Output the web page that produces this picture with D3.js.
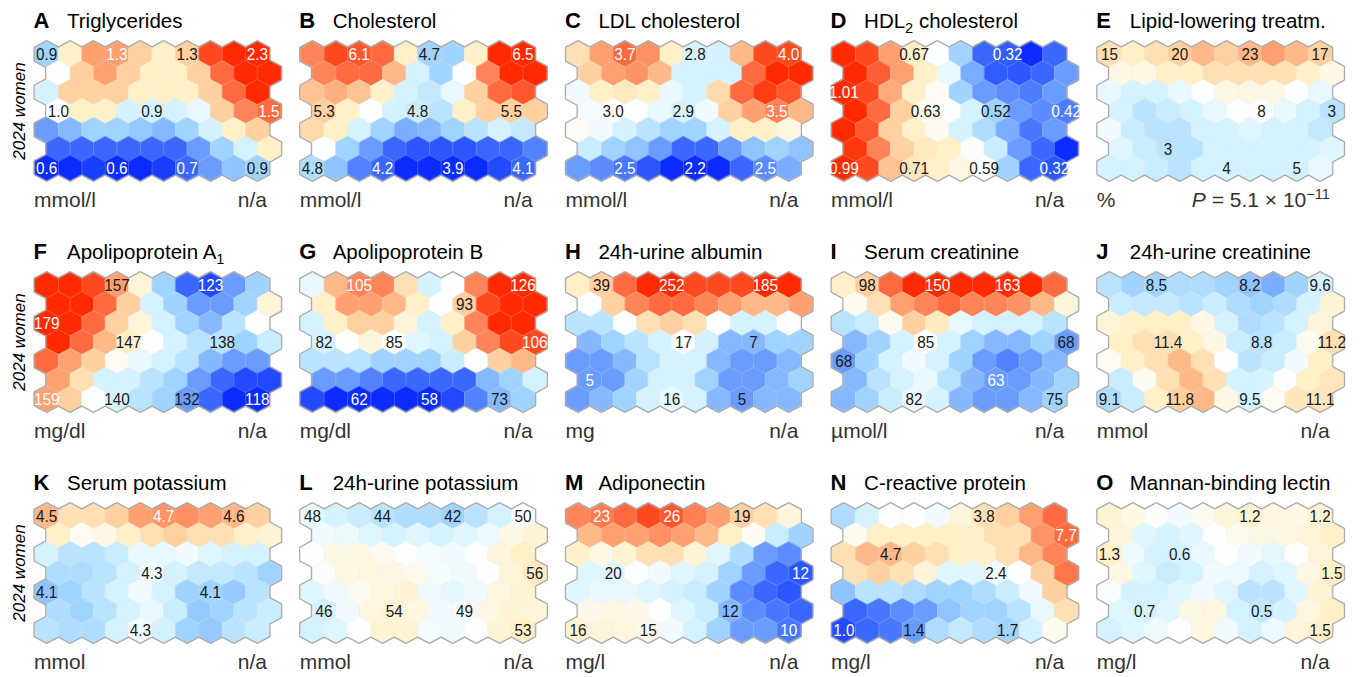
<!DOCTYPE html>
<html>
<head>
<meta charset="utf-8">
<script src="https://cdn.jsdelivr.net/npm/d3@7"></script>
<style>
  html, body { margin: 0; padding: 0; background: #fff; }
  svg { display: block; }
  text { font-family: "Liberation Sans", Arial, Helvetica, sans-serif; }
</style>
</head>
<body>
<svg id="chart" width="1365" height="677"></svg>
<script>
// ---------------- DATA ----------------
// SOM component planes: 7 rows x 10 columns, relative level (-5 = deep blue ... 0 = white ... +5 = deep red)
const triglycerides = [
  [-2, 1, 3, 3, 2, 1, 2, 4.5, 5, 5],
  [0, 2, 3, 2, 1, 1, 2, 4, 5, 5],
  [-1, 2, 2, 2, 1, 1, 1, 2, 4, 5],
  [0, 1, 1, -1, -1, -1, -0.5, 2, 3.5, 4],
  [-3, -2.5, -2, -2, -2.2, -2.5, -2, -1, 1, 2],
  [-4, -4, -4, -4, -4, -4, -3, -2, -1, 1],
  [-5, -5, -4.7, -5, -5, -4.7, -4, -3, -2.3, -2]
];
const cholesterol = [
  [3.5, 4.5, 4.3, 4, 1, -2, -2, 1, 5, 5],
  [3.5, 4, 4, 2.5, -1, -2, 0, 3.5, 5, 5],
  [2.3, 2.7, 2.3, 1, -1, -1.3, -0.5, 2, 4, 4.3],
  [2, 1, 0, -1, -1.2, -1.5, 1, 2, 2, 2],
  [1.7, 1, -1, -2, -2.7, -2.5, -2, -1.5, -1, -1.3],
  [0, -2, -3, -4, -4.3, -4.3, -4.3, -4, -4, -3.5],
  [-1.7, -2.3, -3.5, -4, -5, -5, -5, -5, -4.5, -4]
];
const ldlCholesterol = [
  [1.5, 3, 4, 3.3, 1, -1, -1, 2.5, 4.5, 4.5],
  [2, 3, 3.2, 2.5, -1, -1, -1, 4, 5, 5],
  [-0.3, 1, 1.2, 1, -0.5, -1, 1.7, 4, 4.7, 4.3],
  [-0.2, 0, 0, -0.5, -1, -0.3, 2, 3, 3.5, 2.5],
  [0.2, -0.3, -1, -1.5, -2, -2, -1, 1, 1, 0.5],
  [-1.2, -2, -2.3, -3, -4, -4, -3, -2.3, -2, -2.3],
  [-3, -3.3, -3.7, -4.3, -5, -5, -5, -4, -3.3, -2.7]
];
const hdl2Cholesterol = [
  [5, 4.5, 3, 1, 0, -2, -4, -4.2, -5, -4],
  [5, 4.2, 3, 1, -0.5, -2.7, -4.2, -4.3, -4, -3],
  [5, 4.5, 2.8, 1, 0.2, -2, -3, -3.3, -3.6, -3],
  [5, 4, 2, 0.3, 0, -1, -2, -3, -3.3, -3.6],
  [5, 4.3, 2, 1, 0.3, -1, -1.7, -2.7, -3.7, -3],
  [4.8, 3.5, 2, 1.2, 1, 0.1, -1.2, -3, -4, -5],
  [5, 4.5, 2.3, 1.3, 1, 0.5, 0, -2, -4, -4.3]
];
const lipidLowering = [
  [1.5, 1, 1.5, 2, 2.5, 2, 2.5, 3, 2.5, 2],
  [0.5, 0.5, 1, 1, 1.5, 1.5, 1.5, 1.5, 1, 0.5],
  [-0.5, -1, -1, -0.5, 0, 0.5, 0.5, 0.5, 0, -0.5],
  [-1, -1.5, -1.2, -1, -0.5, 0, 0, -0.5, -1, -1.5],
  [-0.3, -1.2, -1.5, -1.5, -1, -1, -0.7, -1, -1, -1.3],
  [-0.7, -1.2, -1.5, -1.5, -1, -1, -1, -1, -1, -0.7],
  [-1, -1, -1.2, -1.5, -1, -1, -1, -1, -1, -0.5]
];
const apoA1 = [
  [5, 5, 4.5, 3, 0.7, -2, -4, -4.5, -3, -2],
  [5, 5, 4, 2, -1, -2, -3, -3, -2, 0.7],
  [5, 5, 4, 2, 0.7, -1, -2, -2.5, -1.5, 0],
  [5, 4, 2.5, 1, 0, -1, -1.5, -1.5, -2, -1.2],
  [4, 3, 2, 0.2, -0.5, -1, -1.5, -2.5, -3, -3],
  [3, 1.5, -1, -1, -1.5, -2, -3, -4, -4.5, -4.5],
  [3, 2, 0, -1, -1.5, -2, -3, -4, -5, -5]
];
const apoB = [
  [-0.5, 2.5, 3.5, 3.5, 1.5, -1, 0, 3.5, 5, 5],
  [1, 3, 3, 2.5, 1, 0, 2, 4.5, 5, 5],
  [-1, 1, 2, 2, 0.7, -1, 1, 3.5, 5, 5],
  [-1, 0, 0.7, 0, -0.7, -1, 2, 3.5, 4.5, 4.5],
  [-1.5, -1.5, -1.5, -2, -2, -2, -1.2, 0, 2, 2.5],
  [-3, -3, -3.5, -4, -4, -4, -4, -2.5, -2, -1],
  [-4.5, -5, -5, -5, -5, -5, -4.5, -3.5, -2.5, -2]
];
const urineAlbumin = [
  [1, 2, 4, 5, 5, 4.5, 4.5, 4.5, 5, 5],
  [0, 2, 3.5, 4, 4, 3.5, 3, 2.5, 2.5, 3],
  [-1.5, -1.5, 0, 1.5, 2, 1.5, 0, -1, -1, 0],
  [-2.5, -2, -1.5, -1, 0, -1, -2.5, -2.5, -2, -2],
  [-3, -3, -2.5, -1.5, -1, -1, -2.5, -3, -3, -2.5],
  [-3, -3, -2, -1, -1, -2, -3, -3, -2.5, -2],
  [-3, -2.5, -2, -1, -0.5, -1, -2.5, -3, -2.5, -2.5]
];
const serumCreatinine = [
  [1, 2, 4, 5, 5, 5, 5, 5, 5, 4],
  [0.3, 1.5, 3, 3.5, 4, 3.5, 3.5, 3.2, 2.5, 0.7],
  [-1.5, -1.2, 0.3, 2, 1.2, -0.5, -1, -1, -1, -1.5],
  [-2.5, -2, -1, 0, -1, -2, -2.5, -2.5, -2, -3],
  [-3, -2, -1, -0.3, -1, -2, -3, -3.5, -3, -2.5],
  [-2.5, -1.5, -1, -0.5, -1.5, -2.5, -3, -3, -2.5, -2],
  [-2.5, -2, -1.2, -0.5, -1, -2.5, -3, -3, -2.5, -2]
];
const urineCreatinine = [
  [-1.5, -2, -2, -1.7, -1.7, -2, -2.3, -2.7, -2, -1],
  [-1.2, -1.3, -1.3, -1.5, -1.2, -1.7, -2, -1.7, -1, 0.8],
  [0.7, 1, 1, 1, 0.5, -1, -1.7, -1.5, -1, 0.7],
  [1, 1.5, 1.5, 1, 0.5, -1.2, -1.5, -1.2, 0.3, 1.5],
  [0.2, 1, 1.5, 2.5, 1.5, 0, -1.5, -1.2, -0.3, 1],
  [-1.2, 0.3, 1.5, 2.5, 1.5, -1, -1, 0, 1, 1.3],
  [-1.7, -1.2, 1, 2, 2.5, 0.5, -1, 0.2, 1.3, 1.3]
];
const serumPotassium = [
  [2.5, 1.5, 1.5, 2, 3, 3.2, 3.3, 3, 2.5, 2],
  [1, 0.2, 0.5, 1, 1.5, 2, 1.5, 1.5, 1, 0.8],
  [-1, -1.5, -1.5, -1.2, -0.5, -0.5, -0.3, -0.7, -1, -1],
  [-1.7, -1.7, -1.5, -1, -0.3, -1, -1.3, -1.3, -1.5, -2],
  [-2.3, -2, -1.5, -1, -0.3, -1, -2, -2, -2.2, -1.5],
  [-1.7, -2, -1.5, -1, -0.5, -1.2, -2.2, -2, -1.5, -1.2],
  [-1.5, -1.7, -1.7, -1, -0.3, -1, -2, -2.2, -1.5, -1.2]
];
const urinePotassium = [
  [-0.5, -1, -1.2, -1.5, -1.7, -1.7, -2, -1.5, -1, 0],
  [-0.3, -0.4, -0.7, -1, -0.7, -1, -0.7, -0.4, 0.5, 0.8],
  [0, 0.5, 0.5, 0.3, 0, -0.2, -0.3, 0, 0.7, 1],
  [0.1, 0.5, 0.6, 0.5, 0.3, -0.2, -0.3, 0, 0.7, 1.2],
  [-0.7, -0.3, 0.3, 0.6, 0.8, -0.3, -0.6, -0.3, 0.6, 0.8],
  [-1, -0.3, 0.6, 0.8, 0.6, -0.3, -0.2, 0.5, 0.8, 0.7],
  [-1, -0.7, 0, 0.8, 0.8, -0.2, -0.3, 0, 0.8, 1]
];
const adiponectin = [
  [3.5, 3.7, 4, 4.5, 4.3, 3.6, 3, 2, 1.5, 0.7],
  [2.5, 3, 3, 3.3, 3, 2.5, 1, 0.2, -1.2, -2],
  [1, 0.5, 0.8, 1.5, 1.5, 0.8, -0.7, -1.7, -3, -3.3],
  [-0.7, -0.7, 0, -0.3, -0.7, -1, -2, -3, -4, -4.3],
  [-0.7, -0.5, -0.5, -0.7, -1, -1.2, -2, -3.3, -4, -4.3],
  [0.4, 0.5, 0.4, 0, -0.7, -1.2, -2.5, -3.3, -3.7, -4],
  [0.8, 0.7, 0.6, 0.4, -0.3, -1, -2, -3, -3, -3.7]
];
const cReactiveProtein = [
  [-1.7, -1, 0, 0, -0.3, 0.7, 1.5, 2, 3, 4],
  [0.3, 1, 1, 1, 1, 1, 1.5, 1.5, 3.2, 4],
  [1.5, 2.5, 2.5, 2, 1.5, 1, 1, 1.5, 2.5, 3.5],
  [1.5, 2, 1.5, 0.7, -0.7, -0.7, -0.3, 0, 2, 3.8],
  [-2.3, -1.5, -1.5, -1.7, -2, -2, -1.7, -1.2, -0.3, 2],
  [-4, -3.7, -3.3, -3, -2.3, -2, -2, -1.5, -0.5, 1.5],
  [-4.5, -4, -3.7, -3, -1.7, -1.3, -1.7, -2, -1, 0.3]
];
const mannanBindingLectin = [
  [0.8, 0.5, 0.1, -0.3, 0.3, 0.7, 0.8, 0.6, 0.5, 0.8],
  [0.7, -0.7, -1, -0.7, 0, 0.3, 0.5, 0.5, 0.7, 1],
  [1, -0.4, -1, -1, -0.5, 0, -0.3, -0.6, 0, 0.7],
  [0.5, -0.7, -1.2, -1, -0.3, -0.4, -1, -0.7, 0.5, 1],
  [-0.1, -1, -1, -0.7, -0.3, -0.7, -1.5, -1.5, -0.7, 0.8],
  [-0.7, -1, -0.7, 0.5, 0.6, -1, -1.3, -1, 0.6, 1],
  [-1, -0.7, -0.4, 0, 0.6, -0.3, -1, -0.4, 0.7, 1]
];

// value labels: [row, col, text, whiteText]
const labelsA = [[0,0,"0.9",0],[0,3,"1.3",1],[0,6,"1.3",0],[0,9,"2.3",1],[3,0,"1.0",0],[3,4,"0.9",0],[3,9,"1.5",1],[6,0,"0.6",1],[6,3,"0.6",1],[6,6,"0.7",1],[6,9,"0.9",0]];
const labelsB = [[0,2,"6.1",1],[0,5,"4.7",0],[0,9,"6.5",1],[3,0,"5.3",0],[3,4,"4.8",0],[3,8,"5.5",0],[6,0,"4.8",0],[6,3,"4.2",1],[6,6,"3.9",1],[6,9,"4.1",1]];
const labelsC = [[0,2,"3.7",1],[0,5,"2.8",0],[0,9,"4.0",1],[3,1,"3.0",0],[3,4,"2.9",0],[3,8,"3.5",1],[6,2,"2.5",1],[6,5,"2.2",1],[6,8,"2.5",1]];
const labelsD = [[0,3,"0.67",0],[0,7,"0.32",1],[2,0,"1.01",1],[3,3,"0.63",0],[3,6,"0.52",0],[3,9,"0.42",1],[6,0,"0.99",1],[6,3,"0.71",0],[6,6,"0.59",0],[6,9,"0.32",1]];
const labelsE = [[0,0,"15",0],[0,3,"20",0],[0,6,"23",0],[0,9,"17",0],[3,6,"8",0],[3,9,"3",0],[5,2,"3",0],[6,5,"4",0],[6,8,"5",0]];
const labelsF = [[0,3,"157",0],[0,7,"123",1],[2,0,"179",1],[3,3,"147",0],[3,7,"138",0],[6,0,"159",1],[6,3,"140",0],[6,6,"132",0],[6,9,"118",1]];
const labelsG = [[0,2,"105",1],[0,9,"126",1],[1,6,"93",0],[3,0,"82",0],[3,3,"85",0],[3,9,"106",1],[6,2,"62",1],[6,5,"58",1],[6,8,"73",0]];
const labelsH = [[0,1,"39",0],[0,4,"252",1],[0,8,"185",1],[3,4,"17",0],[3,7,"7",0],[5,0,"5",1],[6,4,"16",0],[6,7,"5",0]];
const labelsI = [[0,1,"98",0],[0,4,"150",1],[0,7,"163",1],[3,3,"85",0],[3,9,"68",0],[4,0,"68",0],[5,6,"63",1],[6,3,"82",0],[6,9,"75",0]];
const labelsJ = [[0,2,"8.5",0],[0,6,"8.2",0],[0,9,"9.6",0],[3,2,"11.4",0],[3,6,"8.8",0],[3,9,"11.2",0],[6,0,"9.1",0],[6,3,"11.8",0],[6,6,"9.5",0],[6,9,"11.1",0]];
const labelsK = [[0,0,"4.5",0],[0,5,"4.7",1],[0,8,"4.6",0],[3,4,"4.3",0],[4,0,"4.1",0],[4,7,"4.1",0],[6,4,"4.3",0]];
const labelsL = [[0,0,"48",0],[0,3,"44",0],[0,6,"42",0],[0,9,"50",0],[3,9,"56",0],[5,0,"46",0],[5,3,"54",0],[5,6,"49",0],[6,9,"53",0]];
const labelsM = [[0,1,"23",1],[0,4,"26",1],[0,7,"19",0],[3,1,"20",0],[3,9,"12",1],[5,6,"12",0],[6,0,"16",0],[6,3,"15",0],[6,9,"10",1]];
const labelsN = [[0,6,"3.8",0],[1,9,"7.7",1],[2,2,"4.7",0],[3,6,"2.4",0],[6,0,"1.0",1],[6,3,"1.4",0],[6,7,"1.7",0]];
const labelsO = [[0,6,"1.2",0],[0,9,"1.2",0],[2,0,"1.3",0],[2,3,"0.6",0],[3,9,"1.5",0],[5,1,"0.7",0],[5,6,"0.5",0],[6,9,"1.5",0]];

const panelLetters = ["A","B","C","D","E","F","G","H","I","J","K","L","M","N","O"];
// title segments: even index = normal text, odd index = subscript
const panelTitles = [
  ["Triglycerides"], ["Cholesterol"], ["LDL cholesterol"], ["HDL", "2", " cholesterol"], ["Lipid-lowering treatm."],
  ["Apolipoprotein A", "1"], ["Apolipoprotein B"], ["24h-urine albumin"], ["Serum creatinine"], ["24h-urine creatinine"],
  ["Serum potassium"], ["24h-urine potassium"], ["Adiponectin"], ["C-reactive protein"], ["Mannan-binding lectin"]
];
const panelUnits = ["mmol/l","mmol/l","mmol/l","mmol/l","%","mg/dl","mg/dl","mg","µmol/l","mmol","mmol","mmol","mg/l","mg/l","mg/l"];
const panelNotes = ["n/a","n/a","n/a","n/a","P","n/a","n/a","n/a","n/a","n/a","n/a","n/a","n/a","n/a","n/a"];
const pValue = { mantissa: "5.1", exponent: "−11" };
const rowLabel = "2024 women";
const panelGrids = [triglycerides, cholesterol, ldlCholesterol, hdl2Cholesterol, lipidLowering,
  apoA1, apoB, urineAlbumin, serumCreatinine, urineCreatinine,
  serumPotassium, urinePotassium, adiponectin, cReactiveProtein, mannanBindingLectin];
const panelLabels = [labelsA, labelsB, labelsC, labelsD, labelsE, labelsF, labelsG, labelsH, labelsI, labelsJ, labelsK, labelsL, labelsM, labelsN, labelsO];

const colorLevels = [-5, -4, -3, -2, -1, 0, 1, 2, 3, 4, 5];
const colorHexes = ["#0c2cff", "#3a68ff", "#6a9cff", "#a0d4ff", "#d4f2ff", "#fcfeff", "#fff0c8", "#ffd0a0", "#ffa070", "#ff6a40", "#ff2a00"];

// ---------------- LAYOUT ----------------
const hexW = 23.4, hexR = 12.6, rowDy = 18.9;
const nCols = 10, nRows = 7, perRow = 5;
const panelDx = 265.7, panelDy = 231;
const firstX = 46.7, firstY = 54.3;

const color = d3.scaleLinear().domain(colorLevels).range(colorHexes).interpolate(d3.interpolateRgb).clamp(true);
const panelX = d3.scaleLinear().domain([0, 1]).range([firstX, firstX + panelDx]);
const panelY = d3.scaleLinear().domain([0, 1]).range([firstY, firstY + panelDy]);
const colX = d3.scaleLinear().domain([0, 1]).range([0, hexW]);
const rowY = d3.scaleLinear().domain([0, 1]).range([0, rowDy]);

const hw = hexW / 2;
const hexPath = d3.line()([[0, -hexR], [hw, -hexR / 2], [hw, hexR / 2], [0, hexR], [-hw, hexR / 2], [-hw, -hexR / 2]]) + "Z";

const svg = d3.select("#chart");

panelGrids.forEach((grid, p) => {
  const pc = p % perRow, pr = Math.floor(p / perRow);
  const ox = panelX(pc), oy = panelY(pr);
  const gridLeft = ox - hw;
  const gridTop = oy - hexR;
  const gridBottom = oy + rowY(nRows - 1) + hexR;
  const g = svg.append("g").attr("transform", `translate(${ox},${oy})`);

  const cells = [];
  grid.forEach((row, r) => row.forEach((v, c) => cells.push({ r, c, v })));
  const cx = d => colX(d.c + (d.r % 2) * 0.5);
  const cy = d => rowY(d.r);

  // outer frame (grey) drawn underneath
  g.append("g").selectAll("path").data(cells).join("path")
    .attr("d", hexPath)
    .attr("transform", d => `translate(${cx(d)},${cy(d)})`)
    .attr("fill", "#a9a9a9").attr("stroke", "#a9a9a9").attr("stroke-width", 3.2).attr("stroke-linejoin", "round");
  // cells (filled, seams closed with own colour)
  g.append("g").selectAll("path").data(cells).join("path")
    .attr("d", hexPath)
    .attr("transform", d => `translate(${cx(d)},${cy(d)})`)
    .attr("fill", d => color(d.v))
    .attr("stroke", d => color(d.v)).attr("stroke-width", 0.6);
  // faint cell outlines
  g.append("g").selectAll("path").data(cells).join("path")
    .attr("d", hexPath)
    .attr("transform", d => `translate(${cx(d)},${cy(d)})`)
    .attr("fill", "none")
    .attr("stroke", "rgba(255,255,255,0.18)").attr("stroke-width", 0.6);

  // value labels (slightly condensed)
  g.append("g").selectAll("text").data(panelLabels[p]).join("text")
    .attr("transform", d => `translate(${colX(d[1] + (d[0] % 2) * 0.5)},${rowY(d[0])}) scale(0.9,1)`)
    .attr("dy", "0.36em")
    .attr("text-anchor", "middle")
    .attr("font-size", 17)
    .attr("fill", d => d[3] ? "#ffffff" : "#1a1a1a")
    .text(d => d[2]);

  // title
  const titleY = gridTop - 13.5;
  svg.append("text").attr("x", gridLeft - 1.5).attr("y", titleY)
    .attr("font-size", 22).attr("font-weight", "bold").attr("fill", "#000")
    .text(panelLetters[p]);
  const tt = svg.append("text").attr("x", gridLeft + 32).attr("y", titleY)
    .attr("font-size", 20.5).attr("fill", "#000");
  panelTitles[p].forEach((seg, i) => {
    if (i % 2 === 1) {
      tt.append("tspan").attr("font-size", 14.5).attr("dy", 5).text(seg);
    } else {
      tt.append("tspan").attr("dy", i > 0 ? -5 : 0).text(seg);
    }
  });

  // units and note
  const unitY = gridBottom + 26.5;
  svg.append("text").attr("x", gridLeft - 1).attr("y", unitY)
    .attr("font-size", 21).attr("fill", "#333").text(panelUnits[p]);
  const note = svg.append("text").attr("x", gridLeft + 232).attr("y", unitY)
    .attr("font-size", 21).attr("fill", "#333").attr("text-anchor", "end");
  if (panelNotes[p] === "P") {
    note.append("tspan").attr("font-style", "italic").text("P");
    note.append("tspan").text(" = " + pValue.mantissa + " × 10");
    note.append("tspan").attr("font-size", 14.5).attr("dy", -8).text(pValue.exponent);
  } else {
    note.text(panelNotes[p]);
  }

  // row label
  if (pc === 0) {
    const midY = (gridTop + gridBottom) / 2;
    svg.append("text")
      .attr("transform", `translate(25,${midY}) rotate(-90)`)
      .attr("text-anchor", "middle")
      .attr("font-size", 17).attr("font-style", "italic").attr("fill", "#000")
      .text(rowLabel);
  }
});
</script>
</body>
</html>
